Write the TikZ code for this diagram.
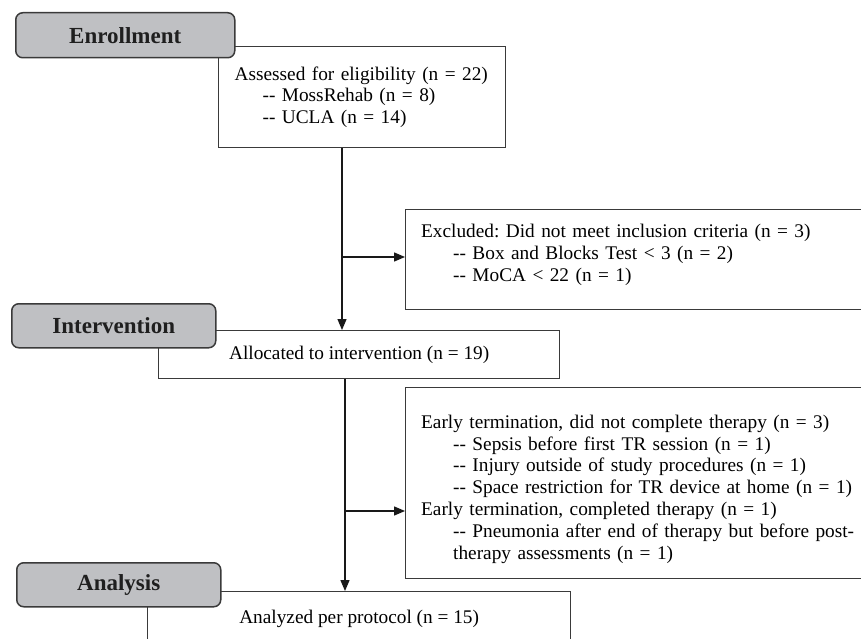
\documentclass[tikz,border=0pt]{standalone}
\usepackage{fontspec}
\setmainfont{Liberation Serif}
\usetikzlibrary{arrows.meta}
\definecolor{hdrfill}{HTML}{BFC0C3}
\definecolor{linecol}{HTML}{3A3A3A}
\frenchspacing
\begin{document}
\begin{tikzpicture}[x=1pt,y=-1pt,
  box/.style={draw=linecol, line width=1.3pt, fill=white, anchor=north west,
    inner ysep=0pt, font=\fontsize{19.3}{21.8}\selectfont},
  lbox/.style={box, align=left},
  cbox/.style={box, align=center, inner xsep=0pt},
  txt/.style={inner sep=0pt, anchor=west, align=left, text width=460pt,
    font=\fontsize{19.3}{21.8}\selectfont},
  hdr/.style={draw=linecol, line width=1.5pt, fill=hdrfill, rounded corners=7pt,
    anchor=north west, inner sep=0pt, text=black!88,
    font=\fontsize{23}{26}\selectfont\bfseries},
  arr/.style={draw=black!90, line width=1.3pt, -{Triangle[length=11pt,width=9pt]}}]
\useasboundingbox (0,0) rectangle (861,639);
\clip (0,0) rectangle (861,639);
% boxes
\node[lbox, minimum width=287pt, minimum height=101pt, text width=255pt, inner xsep=16pt]
  (assess) at (218,46) {Assessed for eligibility (n = 22)\\
  \hspace*{28pt}-{}- MossRehab (n = 8)\\
  \hspace*{28pt}-{}- UCLA (n = 14)};
\node[box, minimum width=520pt, minimum height=100pt] (excl) at (405,209) {};
\node[txt] (excltxt) at ([xshift=16pt,yshift=5pt]excl.west)
  {Excluded: Did not meet inclusion criteria (n = 3)\\
  \hspace*{32pt}-{}- Box and Blocks Test < 3 (n = 2)\\
  \hspace*{32pt}-{}- MoCA < 22 (n = 1)};
\node[cbox, minimum width=401pt, minimum height=48pt]
  (alloc) at (158,330) {Allocated to intervention (n = 19)};
\node[box, minimum width=520pt, minimum height=191pt] (early) at (405,387) {};
\node[txt] (earlytxt) at ([xshift=16pt,yshift=-6pt]early.west)
  {Early termination, did not complete therapy (n = 3)\\
  \hspace*{32pt}-{}- Sepsis before first TR session (n = 1)\\
  \hspace*{32pt}-{}- Injury outside of study procedures (n = 1)\\
  \hspace*{32pt}-{}- Space restriction for TR device at home (n = 1)\\
  Early termination, completed therapy (n = 1)\\
  \hspace*{32pt}-{}- Pneumonia after end of therapy but before post-\\
  \hspace*{32pt}therapy assessments (n = 1)};
\node[cbox, minimum width=423pt, minimum height=54pt]
  (anal) at (147,591) {Analyzed per protocol (n = 15)};
% headers
\node[hdr, minimum width=219pt, minimum height=45pt] (henr) at (15,12) {Enrollment};
\node[hdr, minimum width=204pt, minimum height=44pt] (hint) at (11,303) {Intervention};
\node[hdr, minimum width=204pt, minimum height=44pt] (hana) at (16,562) {Analysis};
% connectors
\coordinate (v1) at (342,257);
\coordinate (v2) at (345,511);
\draw[arr] (assess.south -| v1) -- (alloc.north -| v1);
\draw[arr] (v1) -- (v1 -| excl.west);
\draw[arr] (alloc.south -| v2) -- (anal.north -| v2);
\draw[arr] (v2) -- (v2 -| early.west);
\end{tikzpicture}
\end{document}
